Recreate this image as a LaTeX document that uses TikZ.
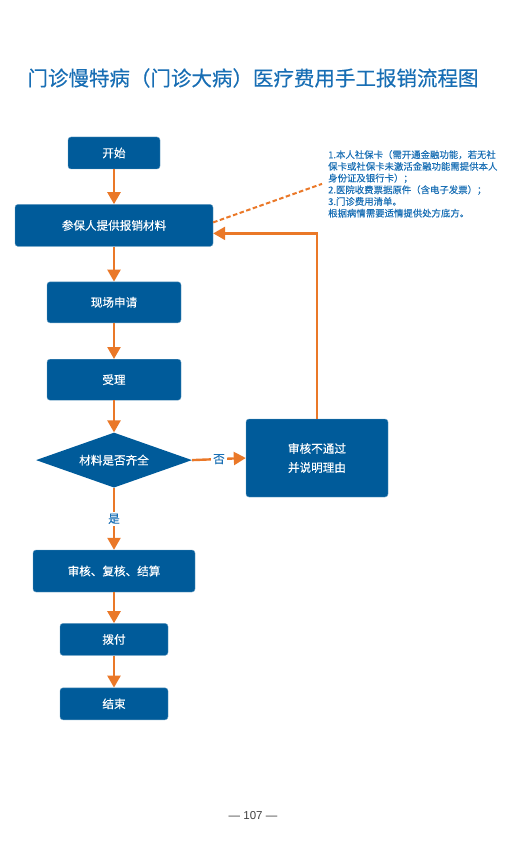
\documentclass[tikz,border=0pt]{standalone}
\usepackage{fontspec}
\setmainfont{Noto Sans CJK SC}[RawFeature={embolden=0.3}]
\newfontfamily\numfont{Liberation Sans}
\usetikzlibrary{arrows.meta, positioning, shapes.geometric}

\definecolor{boxblue}{RGB}{0,91,154}
\definecolor{arrorange}{RGB}{234,120,40}
\definecolor{titleblue}{RGB}{24,110,180}

\begin{document}
\begin{tikzpicture}[x=1pt, y=-1pt,
  fbox/.style={
    rectangle, rounded corners=3pt, fill=boxblue, draw=boxblue!60,
    line width=0.4pt, text=white, align=center,
    font=\fontsize{11.6}{19}\selectfont, inner sep=0pt
  },
  arr/.style={-{Triangle[length=12pt, width=13pt]}, draw=arrorange, line width=2.4pt},
  lbl/.style={fill=white, text=titleblue, inner sep=2pt, font=\fontsize{11.6}{13}\selectfont},
  node distance=35pt
]
\useasboundingbox (0,0) rectangle (506,858);

% === Title ===
\node[text=titleblue, font=\fontsize{20.5}{24}\selectfont] (title) at (253,78)
  {门诊慢特病（门诊大病）医疗费用手工报销流程图};

% === Main flow ===
\node[fbox, minimum width=92pt, minimum height=32pt] (start) at (114,153) {开始};

\node[fbox, minimum width=198pt, minimum height=42pt, below=of start] (apply)
  {参保人提供报销材料};

\node[fbox, minimum width=134pt, minimum height=41pt, below=of apply] (site)
  {现场申请};

\node[fbox, minimum width=134pt, minimum height=41pt, below=36pt of site] (accept)
  {受理};

\node[diamond, fill=boxblue, text=white, inner sep=0pt, aspect=2.8,
      minimum width=156pt, minimum height=55pt,
      font=\fontsize{11.6}{13}\selectfont, below=32pt of accept] (check)
  {材料是否齐全};

\node[fbox, minimum width=142pt, minimum height=78pt] (fail) at (317,458)
  {审核不通过\\并说明理由};

\node[fbox, minimum width=162pt, minimum height=42pt, below=62pt of check] (audit)
  {审核、复核、结算};

\node[fbox, minimum width=108pt, minimum height=32pt, below=31pt of audit] (pay)
  {拨付};

\node[fbox, minimum width=108pt, minimum height=32pt, below=32pt of pay] (finish)
  {结束};

% === Note ===
\node[anchor=north west, align=left, text=titleblue, inner sep=2pt,
      font=\fontsize{9.4}{11.7}\selectfont] (note) at (326,148)
  {1.本人社保卡（需开通金融功能，若无社\\
   保卡或社保卡未激活金融功能需提供本人\\
   身份证及银行卡）；\\
   2.医院收费票据原件（含电子发票）；\\
   3.门诊费用清单。\\
   根据病情需要适情提供处方底方。};

% === Arrows ===
\draw[arr] (start)  -- (apply);
\draw[arr] (apply)  -- (site);
\draw[arr] (site)   -- (accept);
\draw[arr] (accept) -- (check);
\draw[arr] (check.east) -- node[lbl] {否} (fail.west);
\draw[arr] (check.south) -- node[lbl] {是} (audit.north);
\draw[arr] (audit)  -- (pay);
\draw[arr] (pay)    -- (finish);
\draw[arr] (fail.north) |- ([yshift=-8pt]apply.east);

\draw[arrorange, line width=2pt, dash pattern=on 4.5pt off 2.5pt]
  ([yshift=3pt]apply.east) -- ([xshift=-4pt]note.west);

% === Page number ===
\node[text=black!75, font=\numfont\fontsize{11.5}{13}\selectfont] (page) at (253,816) {— 107 —};

\end{tikzpicture}
\end{document}
